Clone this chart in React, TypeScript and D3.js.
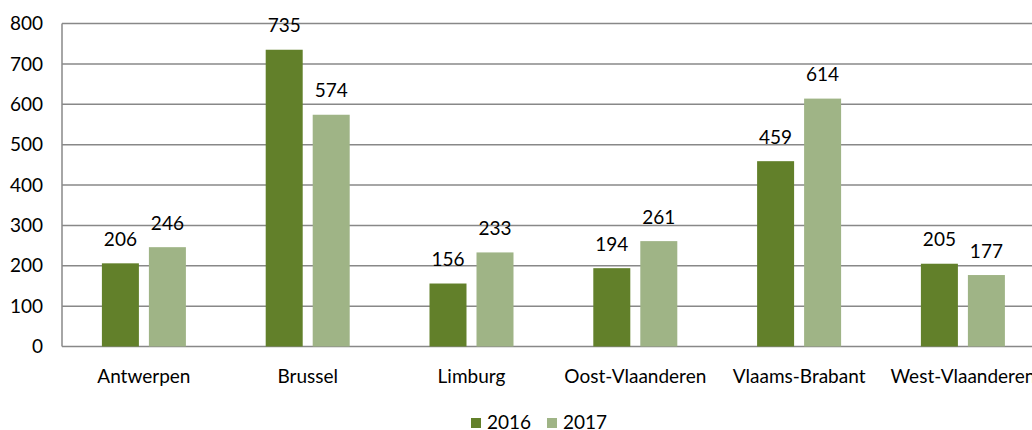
import React from "react";
import * as d3 from "d3";

const categories = ["Antwerpen", "Brussel", "Limburg", "Oost-Vlaanderen", "Vlaams-Brabant", "West-Vlaanderen"];
const series2016 = [206, 735, 156, 194, 459, 205];
const series2017 = [246, 574, 233, 261, 614, 177];
const seriesNames = ["2016", "2017"];
const yTicks = [0, 100, 200, 300, 400, 500, 600, 700, 800];

const colors = ["#62802A", "#9FB486"];
const W = 1032;
const H = 430;
const font = "Lato, 'Open Sans', sans-serif";
const fs = 19;

export default function App() {
  const plotLeft = 62;
  const step = 163.8;
  const plotRight = plotLeft + step * categories.length;
  const y = d3.scaleLinear().domain([0, 800]).range([346.5, 23.5]);
  const x = d3.scaleBand<string>().domain(categories).range([plotLeft, plotRight]).paddingInner(0).paddingOuter(0);
  const barW = 37;
  const gap = 10;
  const data = [series2016, series2017];

  return (
    <div style={{ position: "absolute", left: 0, top: 0 }}>
      <svg width={W} height={H} style={{ display: "block", fontFamily: font, fontWeight: 400 }}>
        <rect width={W} height={H} fill="#fff" />
        {yTicks.map((t) => (
          <g key={t}>
            <line x1={plotLeft} x2={plotRight} y1={y(t)} y2={y(t)} stroke="#888" strokeWidth={1.5} />
            <text x={43} y={y(t)} dy="0.35em" textAnchor="end" fontSize={fs} fill="#000">
              {t}
            </text>
          </g>
        ))}
        <line x1={plotLeft} x2={plotLeft} y1={y(800)} y2={y(0)} stroke="#888" strokeWidth={1.5} />
        {categories.map((c, i) => {
          const cx = (x(c) as number) + x.bandwidth() / 2;
          return (
            <g key={c}>
              {data.map((s, k) => {
                const bx = k === 0 ? cx - gap / 2 - barW : cx + gap / 2;
                return (
                  <g key={k}>
                    <rect x={bx} y={y(s[i])} width={barW} height={y(0) - y(s[i])} fill={colors[k]} />
                    <text x={bx + barW / 2} y={y(s[i]) - 17.5} textAnchor="middle" fontSize={fs} fill="#000">
                      {s[i]}
                    </text>
                  </g>
                );
              })}
              <text x={cx} y={376} dy="0.35em" textAnchor="middle" fontSize={fs} fill="#000">
                {c}
              </text>
            </g>
          );
        })}
        {seriesNames.map((n, k) => {
          const lx = k === 0 ? 471 : 547;
          return (
            <g key={n}>
              <rect x={lx} y={418} width={10} height={10} fill={colors[k]} />
              <text x={lx + 16} y={422} dy="0.35em" fontSize={fs} fill="#000">
                {n}
              </text>
            </g>
          );
        })}
      </svg>
    </div>
  );
}
